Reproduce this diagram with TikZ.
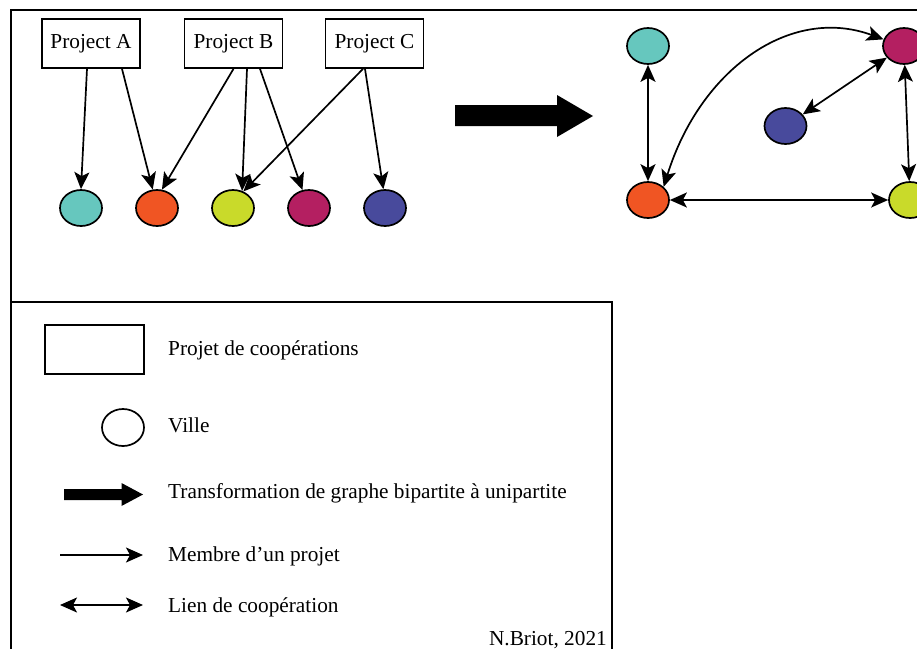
\documentclass[tikz,border=0pt]{standalone}
\usepackage{fontspec}
\setmainfont{Liberation Serif}
\usetikzlibrary{arrows.meta,shapes.geometric}
\definecolor{cteal}{HTML}{66C7BE}
\definecolor{corange}{HTML}{F05523}
\definecolor{cyellow}{HTML}{C9DA2A}
\definecolor{cmag}{HTML}{B41F61}
\definecolor{cblue}{HTML}{484A9C}
\begin{document}
\begin{tikzpicture}[x=1pt,y=-1pt,
  lw/.style={line width=1.7pt},
  projbox/.style={draw,lw,rectangle,minimum width=98pt,minimum height=49pt,inner sep=0pt,font=\fontsize{21.3}{25}\selectfont},
  city/.style={draw,lw,ellipse,minimum width=42pt,minimum height=36pt,inner sep=0pt},
  tip/.style={-{Stealth[length=17pt,width=15pt,inset=4pt]}},
  dtip/.style={{Stealth[length=17pt,width=15pt,inset=4pt]}-{Stealth[length=17pt,width=15pt,inset=4pt]}},
  conn/.style={lw,tip},
  dconn/.style={lw,dtip},
  legtext/.style={anchor=base west,inner sep=0pt,font=\fontsize{21.3}{25}\selectfont},
  bigarrow/.style={fill=black}
]
\useasboundingbox (0,0) rectangle (917,648);
\clip (0,0) rectangle (917,648);
\fill[white] (0,0) rectangle (917,648);
% outer frame
\draw[lw] (11,10) rectangle (940,670);
% legend frame
\draw[lw] (11,302) rectangle (612,670);

% projects
\node[projbox] (pa) at (91,43.5) {Project A};
\node[projbox] (pb) at (233.5,43.5) {Project B};
\node[projbox] (pc) at (374.5,43.5) {Project C};

% cities (bipartite)
\node[city,fill=cteal]   (c1) at (81,208) {};
\node[city,fill=corange] (c2) at (157,208) {};
\node[city,fill=cyellow] (c3) at (233,208) {};
\node[city,fill=cmag]    (c4) at (309,208) {};
\node[city,fill=cblue]   (c5) at (385,208) {};

\draw[conn] ([xshift=-4pt]pa.south) -- (c1.north);
\draw[conn] ([xshift=31pt]pa.south) -- (c2.103);
\draw[conn] ([xshift=0pt]pb.south) -- (c2.75);
\draw[conn] ([xshift=13.5pt]pb.south) -- (c3.62);
\draw[conn] ([xshift=26.5pt]pb.south) -- (c4.110);
\draw[conn] ([xshift=-11.5pt]pc.south) -- (c3.58);
\draw[conn] ([xshift=-9.5pt]pc.south) -- (c5.95);

% big transformation arrow
\fill[bigarrow] (455,105) -- (557,105) -- (557,95) -- (593,116) -- (557,137) -- (557,126) -- (455,126) -- cycle;

% unipartite graph
\node[city,fill=cteal]   (rt) at (648,46) {};
\node[city,fill=corange] (ro) at (648,200) {};
\node[city,fill=cblue]   (rb) at (785.5,126) {};
\node[city,fill=cmag]    (rm) at (904,46) {};
\node[city,fill=cyellow] (ry) at (910,200) {};

\draw[dconn] (rt) -- (ro);
\draw[dconn] (ro) -- (ry);
\draw[dconn] (rb) -- (rm);
\draw[dconn] (rm) -- (ry);
\draw[dconn] (ro.40) .. controls (700,70) and (790,5) .. (rm.162);

% legend
\node[draw,lw,rectangle,minimum width=99pt,minimum height=49pt,inner sep=0pt] (lrect) at (94.5,349.5) {};
\node[legtext] (t1) at (168,355) {Projet de coopérations};
\node[draw,lw,ellipse,minimum width=42pt,minimum height=37pt,inner sep=0pt] (lcirc) at (123,427.5) {};
\node[legtext] (t2) at (168,432) {Ville};
\fill[bigarrow] (64,489) -- (121.5,489) -- (121.5,483) -- (143,494.5) -- (121.5,506) -- (121.5,500) -- (64,500) -- cycle;
\node[legtext] (t3) at (168,498) {Transformation de graphe bipartite à unipartite};
\coordinate (m1) at (60,555);
\coordinate (m2) at (143,555);
\draw[conn] (m1) -- (m2);
\node[legtext] (t4) at (168,561) {Membre d’un projet};
\coordinate (l1) at (60,605);
\coordinate (l2) at (143,605);
\draw[dconn] (l1) -- (l2);
\node[legtext] (t5) at (168,612) {Lien de coopération};
\node[anchor=base east,inner sep=0pt,font=\fontsize{21.3}{25}\selectfont] (cred) at (607,645) {N.Briot, 2021};
\end{tikzpicture}
\end{document}
